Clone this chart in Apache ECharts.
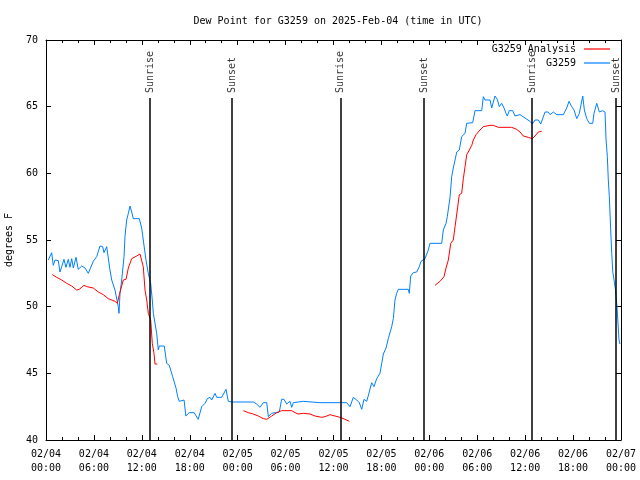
<!DOCTYPE html>
<html>
<head>
<meta charset="utf-8">
<script src="https://cdn.jsdelivr.net/npm/echarts@6/dist/echarts.min.js"></script>
<style>html,body{margin:0;padding:0;background:#fff}#c{width:640px;height:480px}</style>
</head>
<body>
<div id="c"></div>
<script>
// Hours since 2025-02-04 00:00 UTC
const stationHours = [0.29,0.71,0.91,1.13,1.54,1.75,1.97,2.25,2.5,2.79,3.0,3.22,3.42,3.76,4.04,4.47,4.88,5.3,5.92,6.35,6.76,7.1,7.26,7.6,8.01,8.23,8.64,9.05,9.14,9.27,9.48,9.77,9.89,10.1,10.31,10.52,10.64,10.73,10.93,11.15,11.68,11.98,12.27,12.52,12.69,12.81,13.11,13.31,13.44,13.86,14.06,14.19,14.81,15.11,15.44,15.86,16.28,16.49,16.69,16.9,17.29,17.51,17.93,18.55,19.06,19.26,19.5,19.91,20.2,20.54,20.75,21.16,21.38,22.0,22.54,22.83,23.25,25.96,26.38,26.8,27.21,27.64,27.84,28.26,28.68,29.21,29.51,29.8,30.14,30.55,30.77,30.97,32.22,34.31,36.81,37.65,38.07,38.48,38.91,39.23,39.53,39.82,40.16,40.48,40.78,41.07,41.41,41.61,41.82,42.04,42.24,42.58,42.86,43.08,43.29,43.49,43.7,43.91,44.11,45.37,45.49,45.67,45.99,46.42,46.74,46.96,47.46,47.87,48.08,49.55,49.75,50.09,50.25,50.59,50.8,51.0,51.22,51.43,51.75,52.05,52.47,52.68,53.43,53.72,54.56,54.76,54.97,55.6,55.81,56.22,56.51,56.76,57.06,57.35,57.6,57.76,58.01,58.44,58.73,59.35,60.1,60.6,60.9,61.23,61.65,61.95,62.49,62.9,63.11,63.53,63.95,64.78,65.2,65.49,65.83,66.12,66.46,66.78,67.21,67.41,67.71,68.04,68.46,68.62,68.96,69.29,69.71,70.0,70.13,70.29,70.41,70.54,70.71,70.84,70.97,71.13,71.3,71.5,71.75,71.87];
const stationValues = [53.5,54.05,53.1,53.5,53.45,52.6,53.0,53.55,52.95,53.55,52.95,53.6,52.9,53.7,52.8,53.05,52.9,52.5,53.4,53.75,54.55,54.5,54.05,54.5,52.75,52.0,51.25,50.0,49.5,51.0,52.0,53.75,55.25,56.5,57.0,57.55,57.7,57.1,56.6,56.7,56.6,55.9,54.6,53.5,52.9,52.5,51.75,50.5,49.5,48.0,46.75,47.05,47.05,45.75,45.6,44.75,43.9,43.25,42.9,43.05,43.0,41.8,42.05,42.05,41.55,41.55,42.5,42.75,43.1,43.2,43.0,43.5,43.2,43.2,43.8,42.9,42.85,42.85,42.7,42.45,42.8,42.8,41.75,42.0,42.05,42.1,43.05,43.05,42.7,42.9,42.45,42.8,42.9,42.8,42.8,42.8,42.5,43.2,43.0,42.8,42.3,43.05,42.9,43.6,44.3,44.0,44.6,44.75,45.0,45.75,46.45,46.9,47.6,47.75,48.5,49.1,50.5,51.0,51.3,51.3,51.0,52.3,52.55,52.6,53.0,53.4,53.6,54.25,54.75,54.75,55.75,56.25,56.75,58.2,59.75,60.4,61.0,61.6,61.75,62.75,63.0,63.75,63.8,64.7,64.7,65.75,65.5,65.5,64.9,65.8,65.55,65.0,65.25,64.9,64.5,64.3,64.7,64.7,64.3,64.4,64.1,63.9,63.7,64.0,64.0,63.7,64.6,64.6,64.4,64.6,64.4,64.4,64.9,65.4,65.0,64.75,64.1,64.5,65.8,64.75,64.1,63.75,63.75,64.5,65.25,64.6,64.7,64.6,62.5,61.25,59.5,58.25,55.75,54.0,52.6,52.0,51.3,50.0,47.5,47.2];

const analysisHours = [0.79,1.34,1.97,2.59,3.22,3.84,4.17,4.76,5.1,5.92,6.55,7.18,7.8,8.64,8.93,9.18,9.68,10.02,10.31,10.73,11.36,11.77,11.98,12.18,12.4,12.61,12.81,13.11,13.31,13.52,13.65,13.94,
  19.0,
  24.71,25.33,25.96,26.58,27.21,27.64,28.26,28.89,29.51,30.77,31.18,31.59,32.22,33.06,33.68,34.52,34.94,35.56,36.19,36.81,37.44,37.98,
  43.0,
  48.71,49.34,49.84,50.09,50.38,50.68,51.0,51.22,51.5,51.75,52.05,52.26,52.47,52.68,53.01,53.31,53.51,53.85,54.35,54.76,55.6,56.01,56.64,58.31,58.94,59.35,59.77,60.39,60.9,61.23,61.65,62.07];
const analysisValues = [52.4,52.2,52.0,51.75,51.55,51.25,51.3,51.6,51.5,51.4,51.1,50.9,50.6,50.4,50.25,50.9,52.0,52.05,52.9,53.6,53.8,53.95,53.95,53.0,51.25,50.5,49.5,49.0,47.25,46.5,45.7,45.7,
  null,
  42.2,42.05,41.95,41.8,41.6,41.55,41.8,42.05,42.2,42.2,42.05,41.95,42.0,41.95,41.8,41.7,41.75,41.9,41.8,41.7,41.55,41.4,
  null,
  51.6,51.9,52.25,52.9,53.5,54.75,55.0,56.0,57.25,58.4,58.5,59.6,60.5,61.4,61.75,62.1,62.5,62.9,63.25,63.5,63.6,63.6,63.45,63.45,63.3,63.1,62.8,62.7,62.6,62.8,63.1,63.15];

const sunHours = [13.02, 23.29, 36.85, 47.33, 60.88, 71.37];
const sunNames = ['Sunrise', 'Sunset', 'Sunrise', 'Sunset', 'Sunrise', 'Sunset'];

const xTickLabels = ['02/04\n00:00','02/04\n06:00','02/04\n12:00','02/04\n18:00','02/05\n00:00','02/05\n06:00','02/05\n12:00','02/05\n18:00','02/06\n00:00','02/06\n06:00','02/06\n12:00','02/06\n18:00','02/07\n00:00'];
const yTicks = [40, 45, 50, 55, 60, 65, 70];

const FONT = 'DejaVu Sans Mono';
const zip = (a, b) => a.map((v, i) => [v, b[i]]);

const chart = echarts.init(document.getElementById('c'), null, {renderer: 'canvas'});
const axisBase = {
  axisLine: {show: true, onZero: false, lineStyle: {color: '#000', width: 1}},
  splitLine: {show: false}
};
const legendBase = {
  orient: 'vertical', align: 'right', itemWidth: 26, itemHeight: 1.2, itemGap: 0, padding: 0,
  icon: 'rect', selectedMode: false, right: 30,
  textStyle: {fontFamily: FONT, fontSize: 10, color: '#000', padding: [0, 3, 0, 0]}
};
chart.setOption({
  animation: false,
  backgroundColor: '#fff',
  title: {
    text: 'Dew Point for G3259 on 2025-Feb-04 (time in UTC)',
    left: 333, top: 11, textAlign: 'center',
    textStyle: {fontFamily: FONT, fontSize: 10, fontWeight: 'normal', color: '#000'}
  },
  grid: {left: 46, right: 19, top: 40, bottom: 40, containLabel: false, outerBoundsMode: 'none'},
  legend: [
    Object.assign({}, legendBase, {data: ['G3259 Analysis'], top: 44}),
    Object.assign({}, legendBase, {data: ['G3259'], top: 58})
  ],
  xAxis: [
    Object.assign({}, axisBase, {
      type: 'value', min: 0, max: 72, interval: 6, position: 'bottom',
      axisTick: {show: true, inside: true, length: 5, lineStyle: {color: '#000'}},
      minorTick: {show: true, splitNumber: 3, length: 3, lineStyle: {color: '#000'}},
      axisLabel: {fontFamily: FONT, fontSize: 10, color: '#000', margin: 7, lineHeight: 14,
        formatter: v => xTickLabels[Math.round(v / 6)] || ''}
    }),
    Object.assign({}, axisBase, {
      type: 'value', min: 0, max: 72, interval: 6, position: 'top',
      axisTick: {show: true, inside: true, length: 5, lineStyle: {color: '#000'}},
      minorTick: {show: true, splitNumber: 3, length: 3, lineStyle: {color: '#000'}},
      axisLabel: {show: false}
    })
  ],
  yAxis: [
    Object.assign({}, axisBase, {
      type: 'value', min: 40, max: 70, interval: 5, position: 'left',
      name: 'degrees F', nameLocation: 'middle', nameRotate: 90, nameGap: 32,
      nameTextStyle: {fontFamily: FONT, fontSize: 10, color: '#000'},
      axisTick: {show: true, inside: true, length: 5, lineStyle: {color: '#000'}},
      axisLabel: {fontFamily: FONT, fontSize: 10, color: '#000', margin: 8,
        formatter: v => yTicks.indexOf(v) >= 0 ? String(v) : ''}
    }),
    Object.assign({}, axisBase, {
      type: 'value', min: 40, max: 70, interval: 5, position: 'right',
      axisTick: {show: true, inside: true, length: 5, lineStyle: {color: '#000'}},
      axisLabel: {show: false}
    })
  ],
  series: [
    {
      name: 'G3259 Analysis', type: 'line', data: zip(analysisHours, analysisValues),
      symbol: 'none', connectNulls: false, z: 3,
      lineStyle: {color: '#ff0000', width: 1}, itemStyle: {color: '#ff0000'}
    },
    {
      name: 'G3259', type: 'line', data: zip(stationHours, stationValues),
      symbol: 'none', z: 2,
      lineStyle: {color: '#0080ff', width: 1}, itemStyle: {color: '#0080ff'}
    },
    {
      name: 'sun', type: 'scatter', symbolSize: 0, silent: true, z: 4,
      data: sunHours.map((t, i) => ({value: [t, 65.65], name: sunNames[i]})),
      label: {show: true, position: 'top', distance: 5, rotate: 90, align: 'left', verticalAlign: 'middle',
        formatter: p => p.name, fontFamily: FONT, fontSize: 10, color: '#000'},
      markLine: {
        silent: true, symbol: 'none', animation: false,
        lineStyle: {color: '#000', width: 1.5, type: 'solid'},
        label: {show: false},
        data: sunHours.map(t => [{coord: [t, 40]}, {coord: [t, 65.65]}])
      }
    }
  ]
});
</script>
</body>
</html>
